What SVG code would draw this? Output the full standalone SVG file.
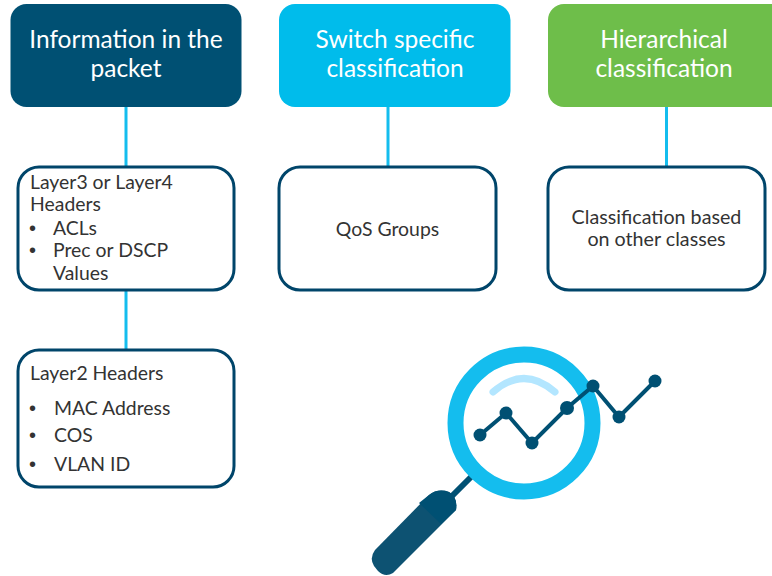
<svg xmlns="http://www.w3.org/2000/svg" width="772" height="576" viewBox="0 0 772 576">
<style>
text{font-family:Lato,"Open Sans",sans-serif}
.h{font-size:24.500px;fill:#fff;text-anchor:middle}
.b{font-size:19.400px;fill:#333}
.d{font-size:20px;fill:#333;font-family:"Liberation Sans",sans-serif}
.c{text-anchor:middle}
.w{font-size:19.700px}
.box{fill:#fff;stroke:#00456a;stroke-width:3}
.link{stroke:#14bdee;stroke-width:3;fill:none}
.pt{fill:#005073}
</style>
<rect width="772" height="576" fill="#fff"/>
<g id="connectors">
<path class="link" d="M126 107V167M126 290V350M388 107V167M666.500 107V167"/>
</g>
<g id="head1"><rect x="10.500" y="4" width="231" height="103" rx="16" fill="#005073"/>
<text class="h" x="126" y="48">Information in the</text><text class="h" x="126" y="77">packet</text></g>
<g id="head2"><rect x="279" y="4" width="231.500" height="103" rx="16" fill="#00bceb"/>
<text class="h" x="395" y="48">Switch specific</text><text class="h" x="395" y="77">classification</text></g>
<g id="head3"><rect x="548" y="4" width="240" height="103" rx="16" fill="#6ebe4a"/>
<text class="h" x="664" y="48">Hierarchical</text><text class="h" x="664" y="77">classification</text></g>
<g id="box1"><rect class="box" x="18" y="167" width="216" height="123" rx="21"/>
<text class="b" x="30" y="189">Layer3 or Layer4</text><text class="b" x="30" y="211">Headers</text>
<text class="d" x="29" y="235">•</text><text class="b" x="53" y="235">ACLs</text>
<text class="d" x="29" y="257">•</text><text class="b" x="53" y="257">Prec or DSCP</text>
<text class="b" x="53" y="280">Values</text></g>
<g id="box2"><rect class="box" x="18" y="350" width="216" height="137" rx="21"/>
<text class="b" x="30" y="380">Layer2 Headers</text>
<text class="d" x="29" y="415">•</text><text class="b" x="54" y="415">MAC Address</text>
<text class="d" x="29" y="442">•</text><text class="b" x="54" y="442">COS</text>
<text class="d" x="29" y="471">•</text><text class="b" x="54" y="471">VLAN ID</text></g>
<g id="box3"><rect class="box" x="279" y="167" width="217" height="123" rx="21"/>
<text class="b c" x="387.500" y="236">QoS Groups</text></g>
<g id="box4"><rect class="box" x="548" y="167" width="217" height="123" rx="21"/>
<text class="b c w" x="656.500" y="224">Classification based</text><text class="b c w" x="656.500" y="246">on other classes</text></g>
<g id="magnifier">
<path d="M472 476L452 496" stroke="#005073" stroke-width="6" fill="none"/>
<path d="M429 495Q438 488 449 492Q458 497 456 510L393 573Q385 578 378 571L374 566Q369 558 375 550Z" fill="#0d5272"/>
<path d="M429 495Q438 488 449 492Q458 497 456 510L441 524L419 503Z" fill="#005073"/>
<circle cx="524" cy="423" r="68.500" fill="#fff" stroke="#14bdee" stroke-width="16"/>
<path d="M493 392Q524 365 555 392" fill="none" stroke="#b3e6ff" stroke-width="7" stroke-linecap="round"/>
<path d="M480 435L506 413L532 443L567 408L593 386L619 417L655 381" fill="none" stroke="#005073" stroke-width="4"/>
<circle class="pt" cx="480" cy="435" r="6.500"/><circle class="pt" cx="506" cy="413" r="6.500"/><circle class="pt" cx="532" cy="443" r="6.500"/><circle class="pt" cx="567" cy="408" r="7"/><circle class="pt" cx="593" cy="386" r="6.500"/><circle class="pt" cx="619" cy="417" r="6.500"/><circle class="pt" cx="655" cy="381" r="6.500"/>
</g>
</svg>
